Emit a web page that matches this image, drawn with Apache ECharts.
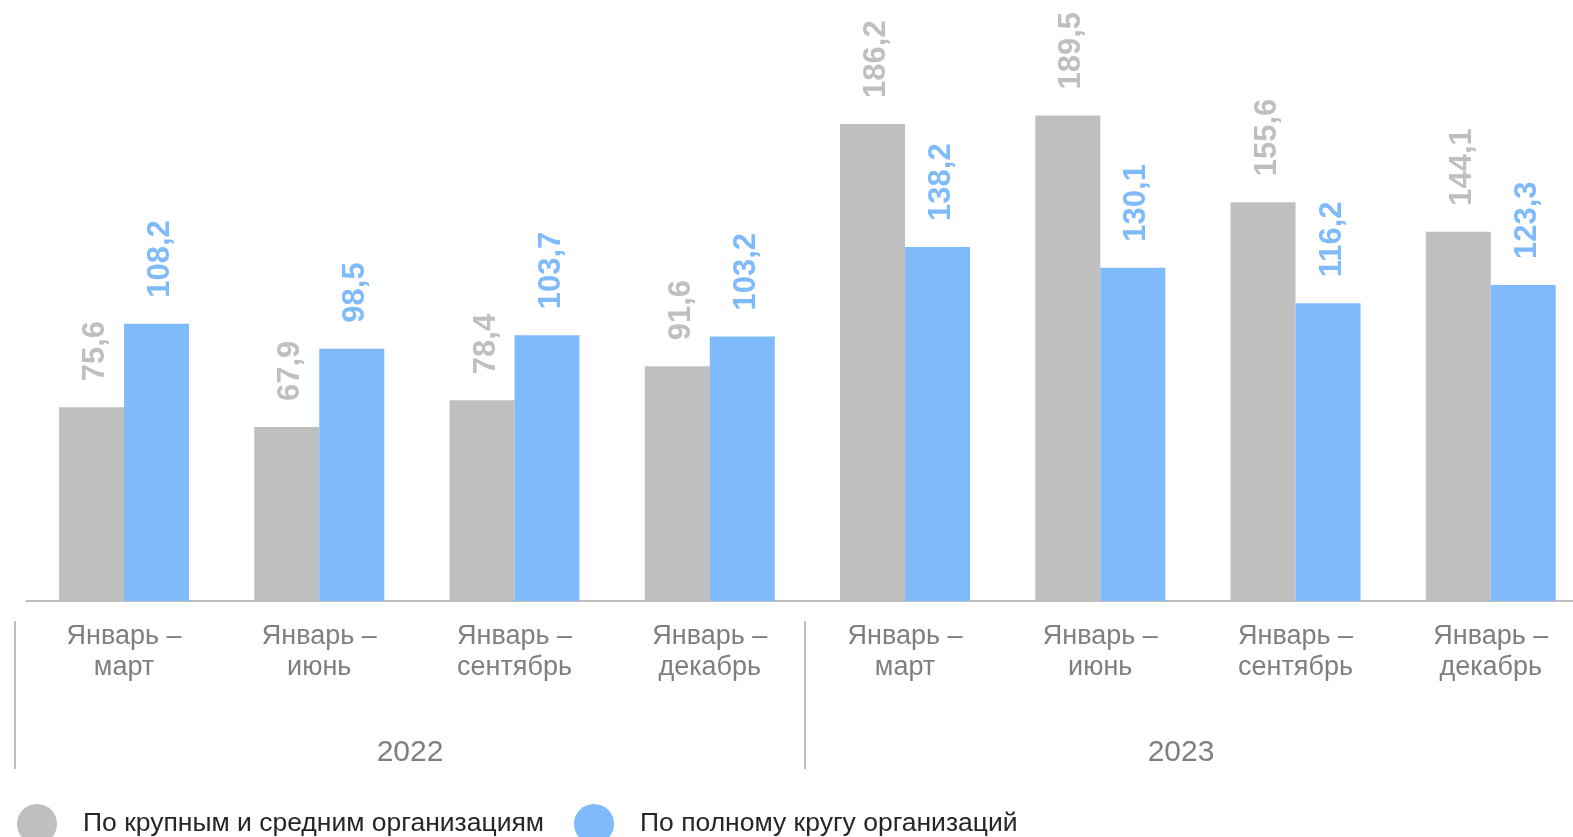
<!DOCTYPE html>
<html>
<head>
<meta charset="utf-8">
<script src="https://cdn.jsdelivr.net/npm/echarts@6/dist/echarts.min.js"></script>
<style>
html,body{margin:0;padding:0;background:#fff;}
#c{width:1573px;height:837px;}
</style>
</head>
<body>
<div id="c"></div>
<script>
const categories = ["Январь –\nмарт","Январь –\nиюнь","Январь –\nсентябрь","Январь –\nдекабрь","Январь –\nмарт","Январь –\nиюнь","Январь –\nсентябрь","Январь –\nдекабрь"];
const years = ["2022","2023"];
const largeMedium = [75.6, 67.9, 78.4, 91.6, 186.2, 189.5, 155.6, 144.1];
const fullCircle = [108.2, 98.5, 103.7, 103.2, 138.2, 130.1, 116.2, 123.3];
const seriesNames = ["По крупным и средним организациям","По полному кругу организаций"];

const FONT = "Liberation Sans, Arial, sans-serif";
const GREY = "#bfbfbf";
const BLUE = "#7fbbfa";
const fmt = p => String(p.value).replace('.', ',');

const chart = echarts.init(document.getElementById('c'), null, {renderer:'canvas'});
chart.setOption({
  animation:false,
  textStyle:{fontFamily:FONT},
  grid:[
    {left:26.4, width:1562, top:11.7, height:589.3, containLabel:false, outerBoundsMode:'none'},
    {left:15, width:1580, top:11.7, height:609.3, containLabel:false, outerBoundsMode:'none'}
  ],
  legend:{
    left:12, top:799,
    icon:'circle', itemWidth:40, itemHeight:40, itemGap:30,
    textStyle:{fontFamily:FONT, fontSize:26.5, color:'#262626', padding:[0,0,0,21]},
    data:seriesNames
  },
  xAxis:[
    {
      type:'category', gridIndex:0, data:categories,
      axisLine:{show:true, lineStyle:{color:GREY, width:2}},
      axisTick:{show:false},
      axisLabel:{interval:0, color:'#7f7f7f', fontSize:27, lineHeight:31, margin:20, fontFamily:FONT}
    },
    {
      type:'category', gridIndex:1, data:years, position:'bottom',
      axisLine:{show:false},
      axisTick:{show:true, length:148, lineStyle:{color:GREY, width:2}},
      axisLabel:{
        interval:0, margin:117, fontSize:30, color:'#7f7f7f', fontFamily:FONT,
        formatter:(v,i)=> i===1 ? '{b|'+v+'}' : '{a|'+v+'}',
        rich:{
          a:{fontSize:30, color:'#7f7f7f', fontFamily:FONT},
          b:{fontSize:30, color:'#7f7f7f', fontFamily:FONT, padding:[0,38,0,0]}
        }
      }
    }
  ],
  yAxis:[
    {type:'value', gridIndex:0, min:0, max:230, show:false, splitLine:{show:false}},
    {type:'value', gridIndex:1, min:0, max:230, show:false, splitLine:{show:false}}
  ],
  series:[
    {
      name:seriesNames[0], type:'bar', xAxisIndex:0, yAxisIndex:0,
      data:largeMedium, barWidth:65, barGap:'0%',
      itemStyle:{color:GREY},
      label:{show:true, position:'top', rotate:90, align:'left', verticalAlign:'middle', distance:26, offset:[0,4],
        formatter:fmt, color:GREY, fontSize:31, fontWeight:'bold', fontFamily:FONT}
    },
    {
      name:seriesNames[1], type:'bar', xAxisIndex:0, yAxisIndex:0,
      data:fullCircle, barWidth:65, barGap:'0%',
      itemStyle:{color:BLUE},
      label:{show:true, position:'top', rotate:90, align:'left', verticalAlign:'middle', distance:26, offset:[0,4],
        formatter:fmt, color:BLUE, fontSize:31, fontWeight:'bold', fontFamily:FONT}
    }
  ]
});
</script>
</body>
</html>
